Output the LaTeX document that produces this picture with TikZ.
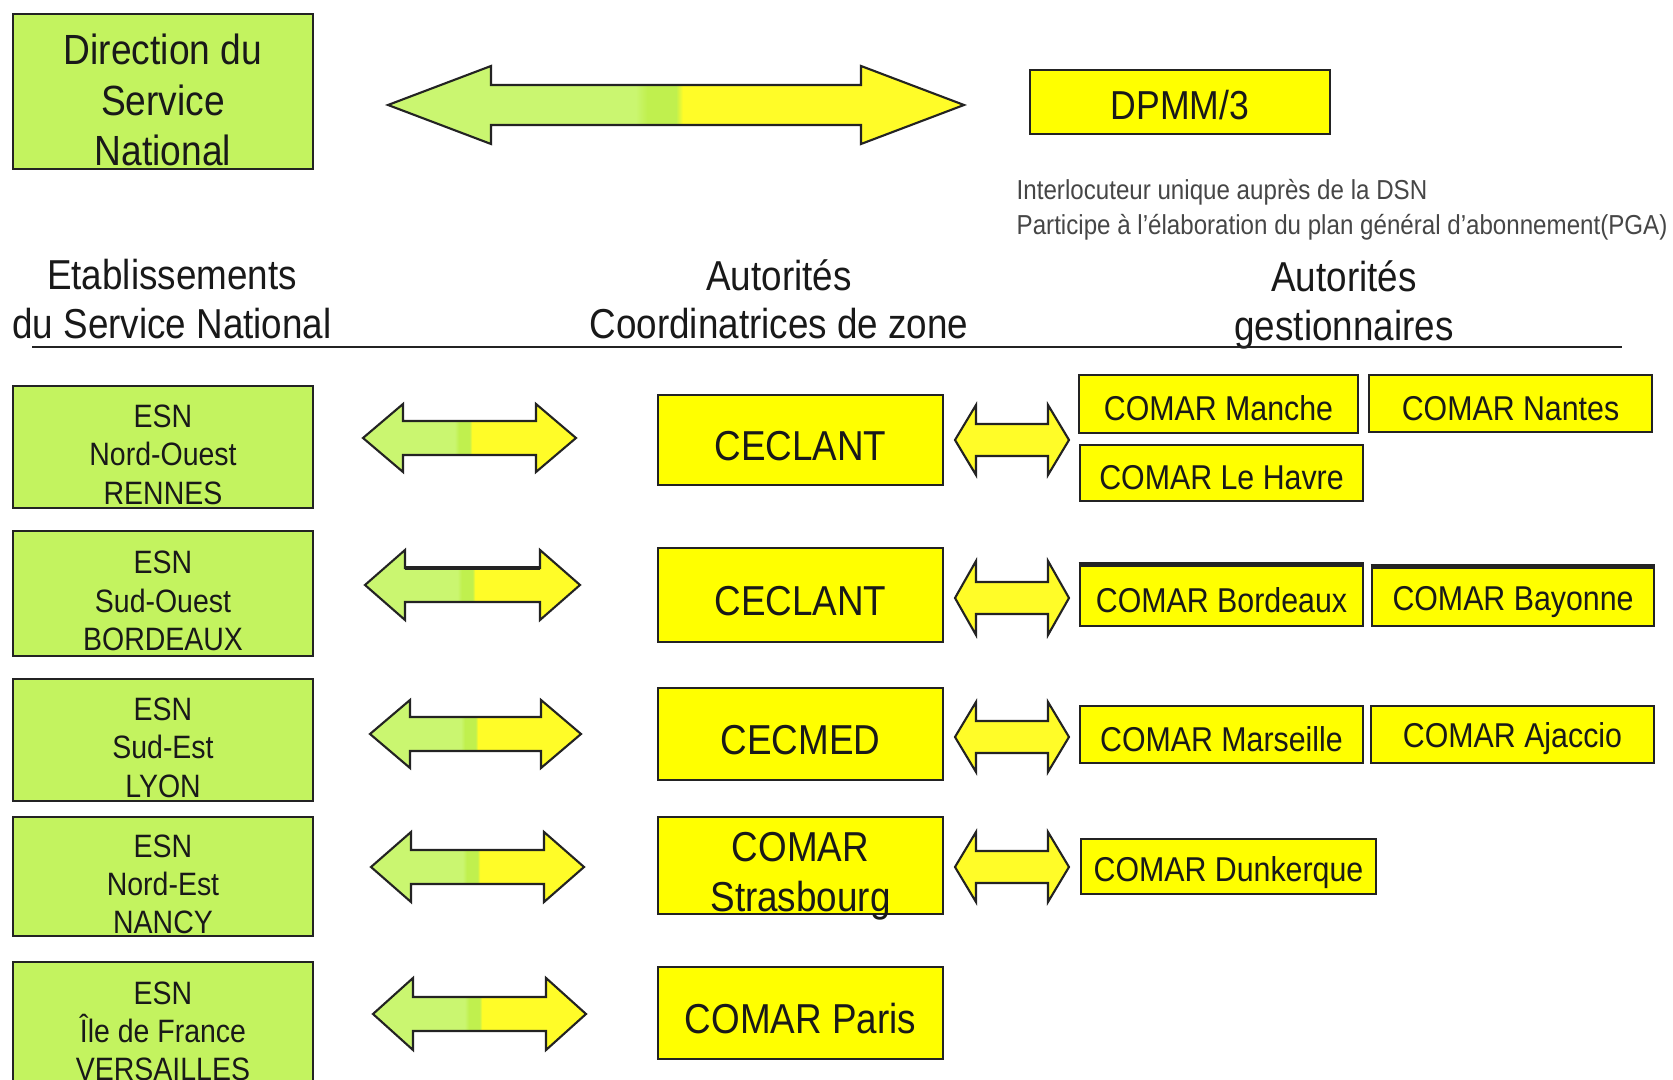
\documentclass[tikz,border=0pt]{standalone}
\usepackage{fontspec}
\setmainfont{Liberation Sans}[FakeStretch=0.88]
\definecolor{boxgreen}{RGB}{195,243,95}
\definecolor{boxyellow}{RGB}{255,255,0}
\definecolor{agreen}{RGB}{202,246,112}
\definecolor{bgreen}{RGB}{192,240,78}
\definecolor{ayellow}{RGB}{255,252,40}
\definecolor{edge}{RGB}{35,35,35}
\definecolor{ink}{RGB}{25,25,25}
\definecolor{note}{RGB}{70,70,70}
\pgfdeclarehorizontalshading{grnyel}{100bp}{color(0bp)=(agreen); color(46.5bp)=(agreen); color(47.5bp)=(bgreen); color(50bp)=(bgreen); color(50.6bp)=(ayellow); color(100bp)=(ayellow)}
\newcommand{\dirtxt}{\fontsize{12}{14.4}\selectfont}
\newcommand{\esntxt}{\fontsize{9.2}{10.9}\selectfont}
\newcommand{\midtxt}{\fontsize{11.9}{14.3}\selectfont}
\newcommand{\comtxt}{\fontsize{9.8}{11.8}\selectfont}
\newcommand{\dpmmtxt}{\fontsize{11.5}{13.8}\selectfont}
\newcommand{\headtxt}{\fontsize{11.9}{13.7}\selectfont}
\newcommand{\notetxt}{\fontsize{7.8}{10}\selectfont}
\newcommand{\dn}[1]{\rule{0pt}{#1}}
% left tip x, right tip x, mid y, head length, half height, half shaft, fill
\newcommand{\dblarrow}[7]{%
  \path[arrline,#7] (#1,#3) -- (#1+#4,#3-#5) -- (#1+#4,#3-#6) -- (#2-#4,#3-#6) -- (#2-#4,#3-#5) -- (#2,#3)
    -- (#2-#4,#3+#5) -- (#2-#4,#3+#6) -- (#1+#4,#3+#6) -- (#1+#4,#3+#5) -- cycle;}
\begin{document}
\begin{tikzpicture}[x=0.01cm, y=-0.01cm,
    box/.style={draw=edge, line width=0.75pt, inner sep=0pt, align=center, text=ink},
    lower/.style={execute at begin node={\dn{#1}}},
    gbox/.style={box, fill=boxgreen, minimum width=3cm, font=\esntxt},
    ybox/.style={box, fill=boxyellow},
    zonebox/.style={ybox, minimum width=2.85cm, font=\midtxt, lower=12pt},
    combox/.style={ybox, minimum width=2.83cm, minimum height=0.57cm, font=\comtxt, lower=9.6pt},
    arrline/.style={draw=edge, line width=0.6pt, line join=miter},
    gyfill/.style={shade, shading=grnyel},
    yfill/.style={fill=ayellow},
    header/.style={align=center, font=\headtxt, text=ink}]
\clip (0,0) rectangle (1673,1080);
\fill[white] (0,0) rectangle (1673,1080);

\node[gbox, minimum height=1.55cm, font=\dirtxt] (dsn) at (163,91.5) {\dn{13.6pt}Direction du\\Service\\National};
\dblarrow{388}{964}{105}{103}{39}{20}{gyfill}
\node[ybox, minimum width=3cm, minimum height=0.64cm, font=\dpmmtxt, lower=10.2pt] (dpmm) at (1180,102) {DPMM/3};
\node[anchor=west, align=left, font=\notetxt, text=note, inner sep=0pt] (role) at (1016,210) {Interlocuteur unique auprès de la DSN\\Participe à l'élaboration du plan général d'abonnement(PGA)};

\node[header] (hesn) at (172,299) {Etablissements\\du Service  National};
\node[header] (hzone) at (779,299) {Autorités\\Coordinatrices  de zone};
\node[header] (hgest) at (1344,305) {Autorités\\gestionnaires};
\draw[edge, line width=0.6pt] (32,347) -- (1622,347);

\node[gbox, minimum height=1.22cm] (esnno) at (163,447) {\dn{10.8pt}ESN\\Nord-Ouest\\RENNES};
\node[gbox, minimum height=1.25cm] (esnso) at (163,593.5) {\dn{10.8pt}ESN\\Sud-Ouest\\BORDEAUX};
\node[gbox, minimum height=1.22cm] (esnse) at (163,740) {\dn{10.8pt}ESN\\Sud-Est\\LYON};
\node[gbox, minimum height=1.19cm] (esnne) at (163,876.5) {\dn{10.8pt}ESN\\Nord-Est\\NANCY};
\node[gbox, minimum height=1.23cm] (esnidf) at (163,1023.5) {\dn{10.8pt}ESN\\Île de France\\VERSAILLES};

\dblarrow{363}{576}{438}{40}{34}{17}{gyfill}
\dblarrow{365}{580}{585}{40}{35}{17}{gyfill}
\draw[edge, line width=1.4pt] (405,568) -- (540,568);
\dblarrow{370}{581}{734}{40}{34}{17}{gyfill}
\dblarrow{371}{584}{867}{40}{35}{17}{gyfill}
\dblarrow{373}{586}{1014}{40}{36}{17}{gyfill}

\node[zonebox, minimum height=0.9cm] (ceclant) at (800.5,440) {CECLANT};
\node[zonebox, minimum height=0.94cm] (ceclantso) at (800.5,595) {CECLANT};
\node[zonebox, minimum height=0.92cm] (cecmed) at (800.5,734) {CECMED};
\node[ybox, minimum width=2.85cm, font=\midtxt, minimum height=0.97cm, inner ysep=-3pt] (strasbourg) at (800.5,865.5) {\dn{14.3pt}COMAR\\Strasbourg};
\node[zonebox, minimum height=0.92cm] (paris) at (800.5,1013) {COMAR Paris};

\dblarrow{955}{1069}{440}{21}{35}{16}{yfill}
\dblarrow{955}{1069}{598}{21}{37}{16}{yfill}
\dblarrow{955}{1069}{737}{21}{35}{16}{yfill}
\dblarrow{955}{1069}{867}{21}{35}{16}{yfill}

\node[combox, minimum width=2.79cm, minimum height=0.58cm] (manche) at (1218.5,404) {COMAR Manche};
\node[combox] (nantes) at (1510.5,403.5) {COMAR Nantes};
\node[combox, minimum height=0.56cm] (havre) at (1221.5,473) {COMAR Le Havre};
\node[combox, minimum height=0.6cm] (bordeaux) at (1221.5,596) {COMAR Bordeaux};
\node[combox, minimum width=2.82cm, minimum height=0.58cm] (bayonne) at (1513,597) {COMAR Bayonne};
\draw[edge, line width=1.6pt] (bordeaux.north west) -- (bordeaux.north east) (bayonne.north west) -- (bayonne.north east);
\node[combox] (marseille) at (1221.5,734.5) {COMAR Marseille};
\node[combox] (ajaccio) at (1512.5,734.5) {COMAR Ajaccio};
\node[combox, minimum width=2.95cm, minimum height=0.55cm, lower=10.6pt] (dunkerque) at (1228.5,866.5) {COMAR Dunkerque};
\end{tikzpicture}
\end{document}
